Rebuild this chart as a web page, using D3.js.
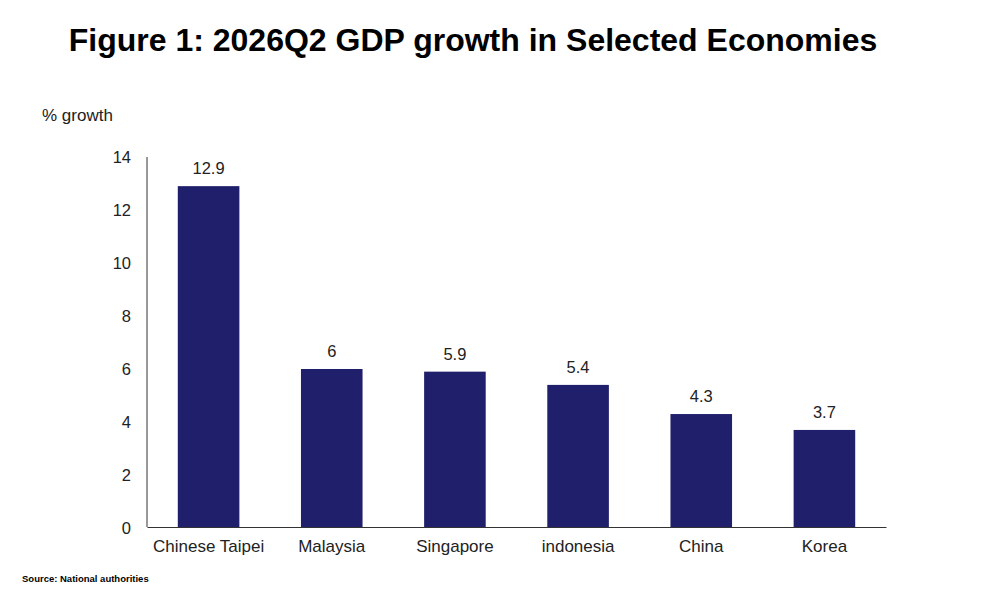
<!DOCTYPE html>
<html>
<head>
<meta charset="utf-8">
<script src="https://cdn.jsdelivr.net/npm/d3@7"></script>
<style>
  body { margin: 0; background: #fff; }
  text { font-family: "Liberation Sans", Arial, sans-serif; }
</style>
</head>
<body>
<div id="chart"></div>
<script>
// chart data
var economies = ["Chinese Taipei", "Malaysia", "Singapore", "indonesia", "China", "Korea"];
var growth = [12.9, 6, 5.9, 5.4, 4.3, 3.7];
var yTicks = [0, 2, 4, 6, 8, 10, 12, 14];

var svgWidth = 1000;
var svgHeight = 600;

var margin = { top: 157, right: 114, bottom: 73, left: 147 };
var width = svgWidth - margin.left - margin.right;
var height = svgHeight - margin.top - margin.bottom;

var svg = d3.select("#chart")
  .append("svg")
  .attr("width", svgWidth)
  .attr("height", svgHeight);

// title
svg.append("text")
  .attr("x", 473)
  .attr("y", 51)
  .attr("text-anchor", "middle")
  .attr("font-size", "32px")
  .attr("font-weight", "bold")
  .text("Figure 1: 2026Q2 GDP growth in Selected Economies");

svg.append("text")
  .attr("x", 42)
  .attr("y", 121)
  .attr("font-size", "17px")
  .attr("fill", "#222")
  .text("% growth");

svg.append("text")
  .attr("x", 22)
  .attr("y", 582)
  .attr("font-size", "9.5px")
  .attr("font-weight", "bold")
  .text("Source: National authorities");

var chartGroup = svg.append("g")
  .attr("transform", `translate(${margin.left}, ${margin.top})`);

var xBandScale = d3.scaleBand()
  .domain(economies)
  .range([0, width])
  .paddingInner(0.5)
  .paddingOuter(0.25);

var yLinearScale = d3.scaleLinear()
  .domain([0, 14])
  .range([height + 1, 0]);

// y axis - line only, labels without ticks
var leftAxis = d3.axisLeft(yLinearScale)
  .tickValues(yTicks)
  .tickSize(0)
  .tickPadding(16);

var yAxis = chartGroup.append("g").call(leftAxis);
yAxis.select(".domain").attr("stroke", "#333").attr("d", `M0,0V${height}`);
yAxis.selectAll("text")
  .attr("font-size", "16.5px")
  .attr("fill", "#222")
  .style("font-family", "Liberation Sans, Arial, sans-serif");

// bars
chartGroup.selectAll("rect")
  .data(growth)
  .enter()
  .append("rect")
  .attr("x", (d, i) => xBandScale(economies[i]))
  .attr("y", d => yLinearScale(d))
  .attr("width", xBandScale.bandwidth())
  .attr("height", d => yLinearScale(0) - yLinearScale(d))
  .attr("fill", "#1f1f6b");

// value labels
chartGroup.selectAll(".value")
  .data(growth)
  .enter()
  .append("text")
  .attr("class", "value")
  .attr("x", (d, i) => xBandScale(economies[i]) + xBandScale.bandwidth() / 2)
  .attr("y", d => yLinearScale(d) - 12)
  .attr("text-anchor", "middle")
  .attr("font-size", "16.5px")
  .attr("fill", "#222")
  .text(d => d);

// x axis - line only
var bottomAxis = d3.axisBottom(xBandScale)
  .tickSize(0)
  .tickPadding(13);

var xAxis = chartGroup.append("g")
  .attr("transform", `translate(0, ${height})`)
  .call(bottomAxis);
xAxis.select(".domain").attr("stroke", "#333");
xAxis.selectAll("text")
  .attr("font-size", "17px")
  .attr("fill", "#222")
  .style("font-family", "Liberation Sans, Arial, sans-serif");
</script>
</body>
</html>
